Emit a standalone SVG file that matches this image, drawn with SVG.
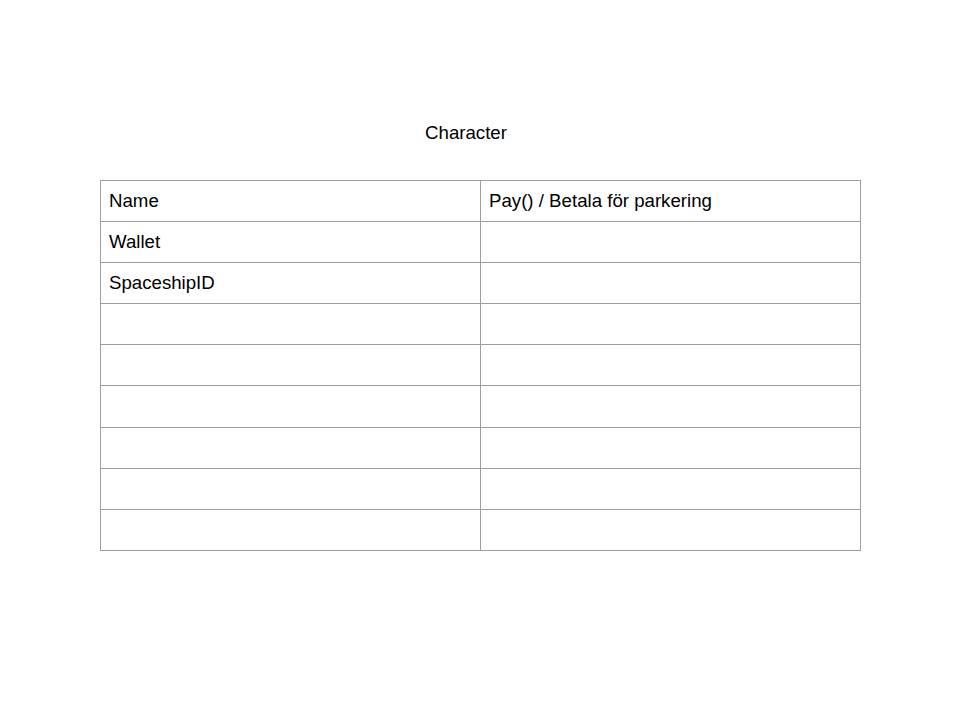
<svg xmlns="http://www.w3.org/2000/svg" width="960" height="720" viewBox="0 0 960 720">
<style>
.t{font-family:"Liberation Sans",Arial,sans-serif;font-size:18.67px;fill:#000}
.g{stroke:#9e9e9e;stroke-width:1;fill:none}
</style>
<rect width="960" height="720" fill="#fff"/>
<g id="title"><text class="t" x="466" y="139" text-anchor="middle">Character</text></g>
<g id="table">
<rect class="g" x="100.5" y="180.5" width="760" height="370"/>
<path class="g" d="M480.5 180.5V550.5M100.5 221.5H860.5M100.5 262.5H860.5M100.5 303.5H860.5M100.5 344.5H860.5M100.5 385.5H860.5M100.5 427.5H860.5M100.5 468.5H860.5M100.5 509.5H860.5"/>
<text class="t" x="109" y="207">Name</text>
<text class="t" x="489" y="207">Pay() / Betala för parkering</text>
<text class="t" x="109" y="248">Wallet</text>
<text class="t" x="109" y="289">SpaceshipID</text>
</g>
</svg>
